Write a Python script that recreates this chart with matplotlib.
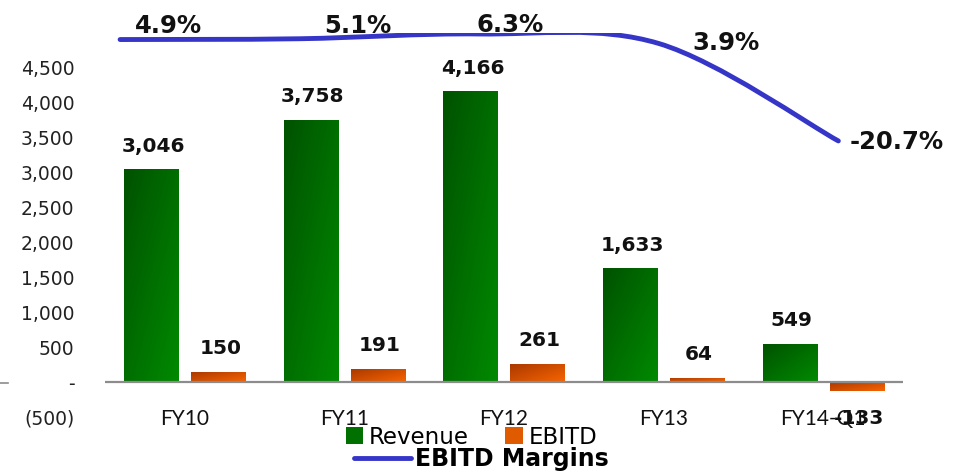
import numpy as np
import matplotlib
matplotlib.use('Agg')
import matplotlib.pyplot as plt
from matplotlib.path import Path
from matplotlib.patches import PathPatch, Patch
from matplotlib.lines import Line2D
from matplotlib.colors import LinearSegmentedColormap
from matplotlib.ticker import FuncFormatter

years = ['FY10', 'FY11', 'FY12', 'FY13', 'FY14-Q1']
revenue = [3046, 3758, 4166, 1633, 549]
ebitd = [150, 191, 261, 64, -133]
margins = [4.9, 5.1, 6.3, 3.9, -20.7]
margin_offsets = [(48, 14), (58, 13), (31, 9), (67, 0), (58, -1)]  # label shift, pixels
yticks = list(range(-500, 5000, 500))


def fmt(v, pos=None):
    if v == 0:
        return '-'
    if v < 0:
        return '({:,.0f})'.format(-v)
    return '{:,.0f}'.format(v)


def gradient_bars(ax, bars, c_dark, c_light):
    cmap = LinearSegmentedColormap.from_list('g', [c_dark, c_light])
    xx, yy = np.meshgrid(np.linspace(0, 1, 64), np.linspace(0, 1, 64))
    grad = (xx + yy) / 2
    for b in bars:
        x0, y0 = b.get_x(), b.get_y()
        w, h = b.get_width(), b.get_height()
        b.set_facecolor('none')
        b.set_edgecolor('none')
        im = ax.imshow(grad, cmap=cmap, origin='upper', aspect='auto',
                       extent=[x0, x0 + w, min(y0, y0 + h), max(y0, y0 + h)],
                       interpolation='bilinear', zorder=2)
        im.set_clip_path(b)


def smooth_path(xs, ys):
    # bezier through the points (same kind of smoothing as office charts)
    pts = np.column_stack([xs, ys]).astype(float)
    n = len(pts)
    verts = [pts[0]]
    codes = [Path.MOVETO]
    for i in range(n - 1):
        p0 = pts[max(i - 1, 0)]
        p1 = pts[i]
        p2 = pts[i + 1]
        p3 = pts[min(i + 2, n - 1)]
        verts += [p1 + (p2 - p0) / 6, p2 - (p3 - p1) / 6, p2]
        codes += [Path.CURVE4] * 3
    return Path(verts, codes)


fig = plt.figure(figsize=(9.65, 4.71), dpi=100)
ax = fig.add_axes([105 / 965, 1 - 417 / 471, 798 / 965, 384 / 471])

x = np.arange(len(years))
w = 0.34
b1 = ax.bar(x - 0.21, revenue, w, zorder=2)
b2 = ax.bar(x + 0.21, ebitd, w, zorder=2)
gradient_bars(ax, b1, '#005200', '#008a00')
gradient_bars(ax, b2, '#a83800', '#f86400')

for xi, v in zip(x - 0.21, revenue):
    ax.annotate('{:,}'.format(v), (xi, v), xytext=(2, 23), textcoords='offset pixels',
                ha='center', va='center', fontsize=14.5, fontweight='bold', color='#111111')
for xi, v in zip(x + 0.21, ebitd):
    off = 23 if v >= 0 else -27
    ax.annotate('{:,}'.format(v), (xi, v), xytext=(2, off), textcoords='offset pixels',
                ha='center', va='center', fontsize=14.5, fontweight='bold', color='#111111')

ax.axhline(0, color='#8c8c8c', lw=1.6, zorder=3)
ax.set_xlim(-0.5, 4.5)
ax.set_ylim(-500, 5000)
ax.set_yticks(yticks)
ax.yaxis.set_major_formatter(FuncFormatter(fmt))
ax.set_xticks(x)
ax.set_xticklabels(years, fontfamily='Lato', fontsize=15)
ax.tick_params(axis='y', length=0, pad=22, labelsize=13.5, labelcolor='#222222')
ax.tick_params(axis='x', length=0, pad=-6, labelcolor='#111111')
for s in ax.spines.values():
    s.set_visible(False)

# margin line on its own overlay
ax2 = fig.add_axes(ax.get_position(), frameon=False)
ax2.set_xlim(-0.084, 4.36)
ax2.set_ylim(-90.4, 6.55)
ax2.axis('off')
ax2.add_patch(PathPatch(smooth_path(x, margins), fill=False, edgecolor='#3535c8',
                        lw=3.5, capstyle='round', zorder=4))
for xi, m, (dx, dy) in zip(x, margins, margin_offsets):
    ax2.annotate('{:.1f}%'.format(m), (xi, m), xytext=(dx, dy), textcoords='offset pixels',
                 ha='center', va='center', fontsize=17.5, fontweight='bold',
                 color='#111111', annotation_clip=False)

fig.add_artist(Line2D([0, 8 / 965], [1 - 383 / 471] * 2, color='#8c8c8c', lw=1.2))

h1 = [Patch(facecolor='#007000', label='Revenue'), Patch(facecolor='#e05a00', label='EBITD')]
fig.legend(handles=h1, loc='center', bbox_to_anchor=(471.5 / 965, 1 - 437 / 471), ncol=2,
           frameon=False, prop={'size': 16.5}, handlelength=0.75,
           handleheight=0.75, handletextpad=0.25, columnspacing=1.6, borderpad=0)
h2 = [Line2D([], [], color='#3535c8', lw=3.5, solid_capstyle='round', label='EBITD Margins')]
fig.legend(handles=h2, loc='center', bbox_to_anchor=(481.5 / 965, 1 - 459 / 471), frameon=False,
           prop={'size': 17, 'weight': 'bold'}, handlelength=2.4,
           handletextpad=0.2, borderpad=0)

fig.savefig('out.png', dpi=100)
